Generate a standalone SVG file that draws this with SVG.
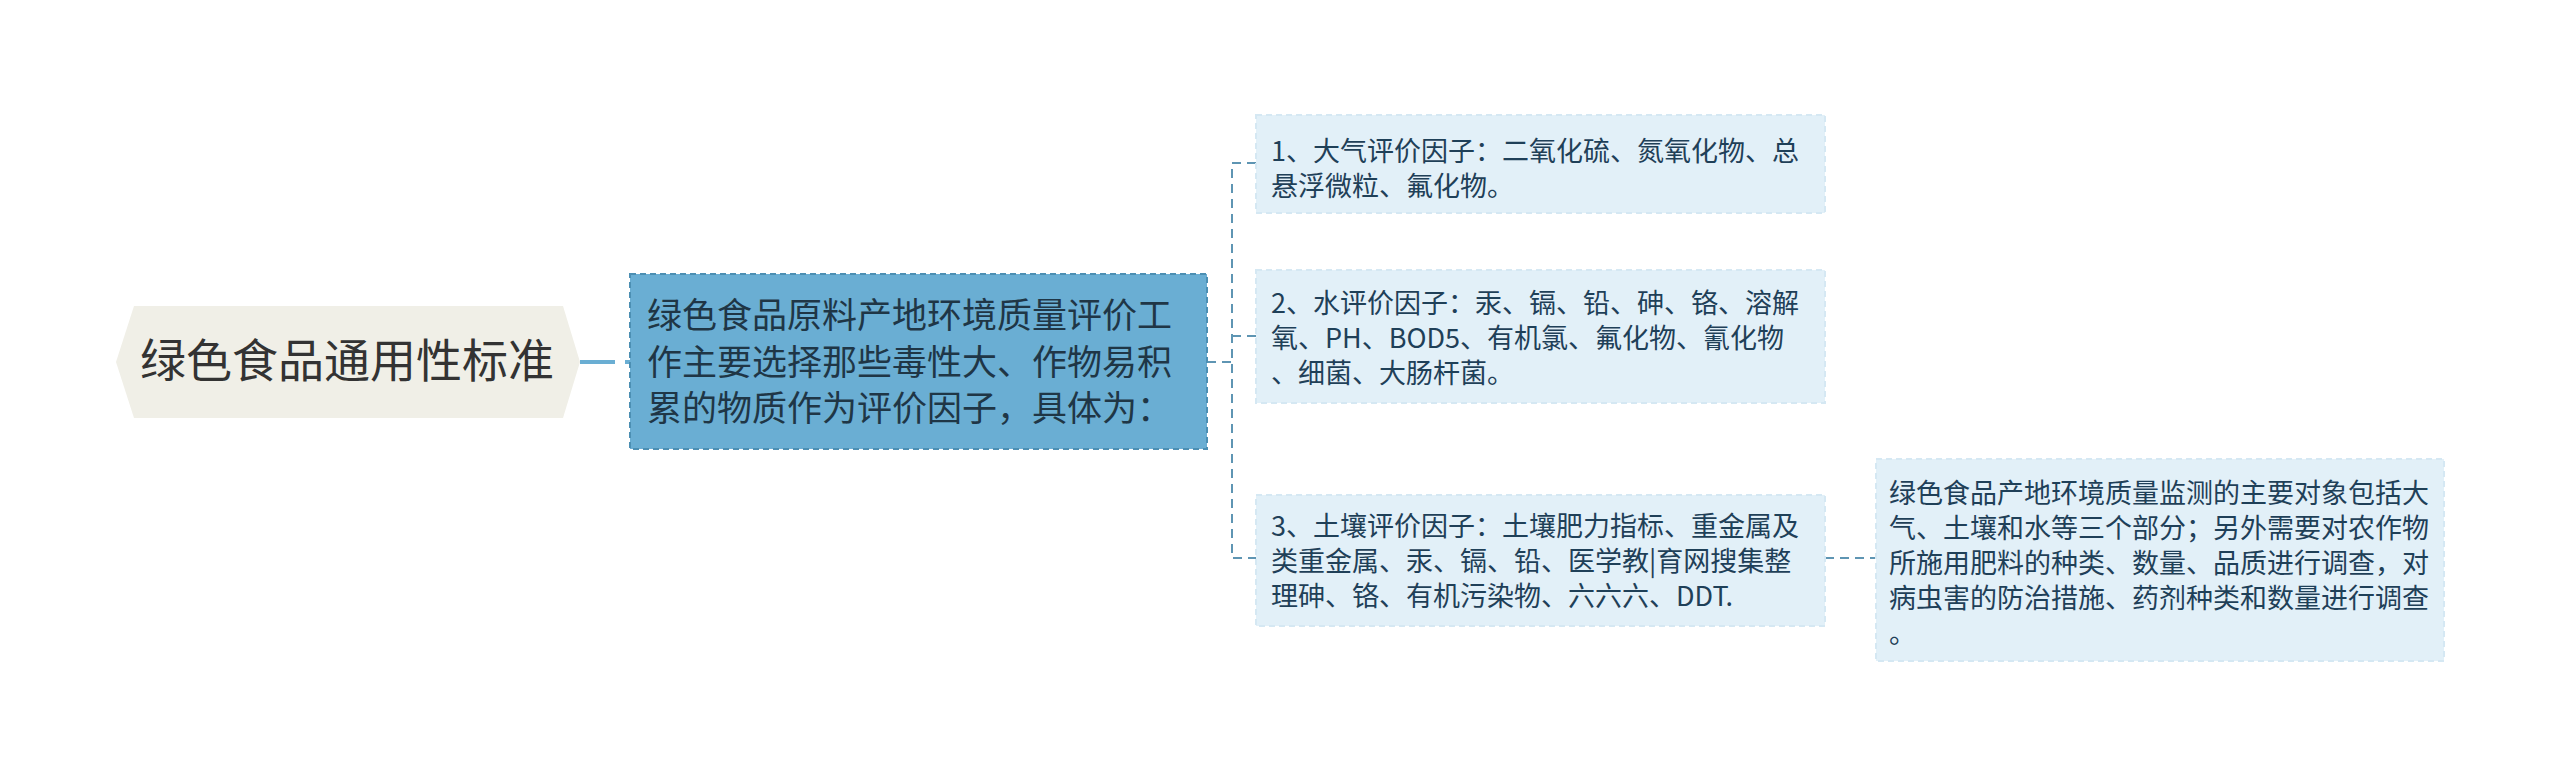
<svg xmlns="http://www.w3.org/2000/svg" width="2560" height="777" viewBox="0 0 2560 777">
<style>
text{font-family:"Noto Sans CJK SC","Noto Sans",sans-serif;}
.root{fill:#f0efe7;}
.roott{font-size:46px;fill:#333333;}
.main{fill:#6aaed3;stroke:#4c8fb3;stroke-width:2;stroke-dasharray:6 4;}
.maint{font-size:35px;fill:#1f3646;}
.leaf{fill:#e2f0f8;stroke:#d5e8f3;stroke-width:2;stroke-dasharray:6 4;}
.leaft{font-size:27px;fill:#1f4058;}
.conn{fill:none;stroke:#5e95b3;stroke-width:2;stroke-dasharray:9 6;}
.conn0{fill:none;stroke:#6aaed3;stroke-width:4;stroke-dasharray:35 10;}
</style>
<rect width="2560" height="777" fill="#ffffff"/>
<g id="connectors">
<path class="conn0" d="M580 362 H630"/>
<path class="conn" d="M1207 362 H1232"/>
<path class="conn" d="M1256 163 H1232 V558 H1256"/>
<path class="conn" d="M1232 336 H1256"/>
<path class="conn" d="M1825 558 H1876"/>
</g>
<g id="root">
<polygon class="root" points="134,306 563,306 580,362 563,418 134,418 116,362"/>
<text class="roott" x="140" y="377">绿色食品通用性标准</text>
</g>
<g id="main">
<rect class="main" x="630" y="274" width="577" height="175"/>
<text class="maint"><tspan x="647" y="328">绿色食品原料产地环境质量评价工</tspan><tspan x="647" y="374.5">作主要选择那些毒性大、作物易积</tspan><tspan x="647" y="421">累的物质作为评价因子，具体为：</tspan></text>
</g>
<g id="n1">
<rect class="leaf" x="1256" y="115" width="569" height="98"/>
<text class="leaft"><tspan x="1271" y="161">1、大气评价因子：二氧化硫、氮氧化物、总</tspan><tspan x="1271" y="196">悬浮微粒、氟化物。</tspan></text>
</g>
<g id="n2">
<rect class="leaf" x="1256" y="270" width="569" height="133"/>
<text class="leaft"><tspan x="1271" y="313">2、水评价因子：汞、镉、铅、砷、铬、溶解</tspan><tspan x="1271" y="348">氧、PH、BOD5、有机氯、氟化物、氰化物</tspan><tspan x="1271" y="383">、细菌、大肠杆菌。</tspan></text>
</g>
<g id="n3">
<rect class="leaf" x="1256" y="495" width="569" height="131"/>
<text class="leaft"><tspan x="1271" y="536">3、土壤评价因子：土壤肥力指标、重金属及</tspan><tspan x="1271" y="571">类重金属、汞、镉、铅、医学教|育网搜集整</tspan><tspan x="1271" y="606">理砷、铬、有机污染物、六六六、DDT.</tspan></text>
</g>
<g id="n4">
<rect class="leaf" x="1876" y="459" width="568" height="202"/>
<text class="leaft"><tspan x="1889" y="503">绿色食品产地环境质量监测的主要对象包括大</tspan><tspan x="1889" y="538">气、土壤和水等三个部分；另外需要对农作物</tspan><tspan x="1889" y="573">所施用肥料的种类、数量、品质进行调查，对</tspan><tspan x="1889" y="608">病虫害的防治措施、药剂种类和数量进行调查</tspan><tspan x="1889" y="643">。</tspan></text>
</g>
</svg>
